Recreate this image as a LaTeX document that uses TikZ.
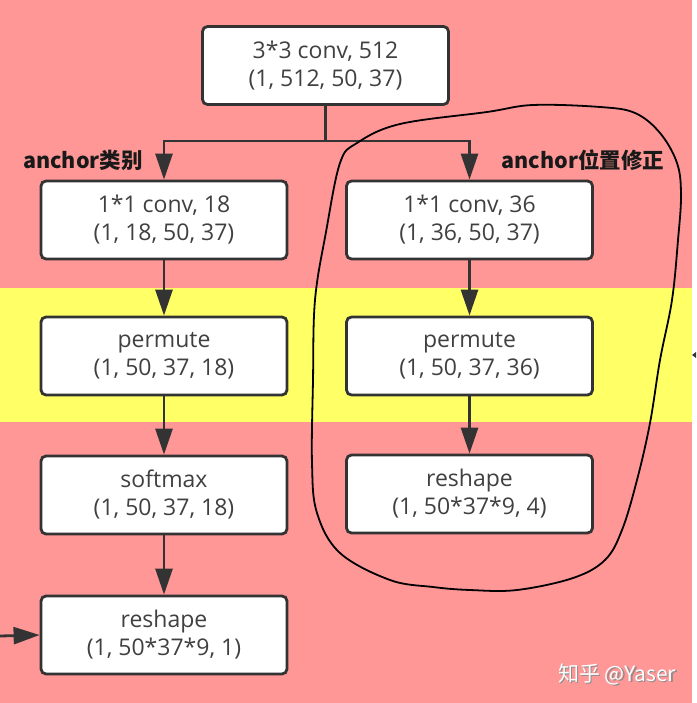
\documentclass[tikz,border=0pt]{standalone}
\usepackage{fontspec}
\setmainfont{Open Sans}
\newfontfamily\cjk{Noto Sans CJK SC}
\usetikzlibrary{arrows.meta}
\definecolor{bgpink}{RGB}{255,151,151}
\definecolor{bandyellow}{RGB}{255,255,102}
\definecolor{boxline}{RGB}{51,51,51}
\definecolor{boxtext}{RGB}{64,64,64}

\begin{document}
\begin{tikzpicture}[x=1pt,y=-1pt,
  layer/.style={draw=boxline, line width=2.8pt, rounded corners=5pt, fill=white,
    minimum width=246pt, minimum height=78pt, align=center, text=boxtext,
    font=\fontsize{23}{28}\selectfont},
  flow/.style={draw=boxline, line width=2.8pt, -{Triangle[length=26pt,width=17pt]}},
  tag/.style={font=\cjk\bfseries\fontsize{21.5}{21.5}\selectfont, text=black!90}]
\useasboundingbox (0,0) rectangle (696,703);
\fill[white] (0,0) rectangle (696,703);
\fill[bgpink] (0,0) rectangle (692,703);
\fill[bandyellow] (0,288) rectangle (692,422);

\node[layer] (conv) at (325.5,65.5) {3*3 conv, 512\\(1, 512, 50, 37)};
\node[layer] (cls1) at (164,220) {1*1 conv, 18\\(1, 18, 50, 37)};
\node[layer] (cls2) at (164,356) {permute\\(1, 50, 37, 18)};
\node[layer] (cls3) at (164,495) {softmax\\(1, 50, 37, 18)};
\node[layer] (cls4) at (164,635) {reshape\\(1, 50*37*9, 1)};
\node[layer] (reg1) at (469.5,220) {1*1 conv, 36\\(1, 36, 50, 37)};
\node[layer] (reg2) at (469.5,356) {permute\\(1, 50, 37, 36)};
\node[layer] (reg3) at (469.5,494) {reshape\\(1, 50*37*9, 4)};

\node[tag] (clsname) at (83,160) {anchor类别};
\node[tag] (regname) at (583,160) {anchor位置修正};

% branch
\coordinate (split) at (325.5,141);
\draw[boxline, line width=2.8pt] (conv.south) -- (split);
\draw[flow] (split) -| (cls1.north);
\draw[flow] (split) -| (reg1.north);
\foreach \a/\b in {cls1/cls2, cls2/cls3, cls3/cls4, reg1/reg2, reg2/reg3} {
  \draw[flow] (\a) -- (\b);
};
\coordinate (feed) at (0,636);
\draw[flow] (feed) -- (cls4.west);
\fill[boxline] (692,355) -- (696,352) -- (696,358) -- cycle;

% hand drawn loop
\draw[black, line width=1.8pt] plot[smooth cycle, tension=0.6] coordinates {
  (340,163) (357,143) (400,124) (487,112) (533,105) (600,107) (635,113)
  (660,133) (677,163) (681,195) (678,240) (672,300) (660,360) (650,423)
  (637,480) (622,530) (605,560) (573,578) (517,590) (470,590) (433,587)
  (390,580) (340,553) (317,513) (312,463) (313,380) (315,300) (326,232)};

\node[font=\cjk\fontsize{21}{21}\selectfont, text=black!45] (markshadow) at (618.5,675.5) {知乎 @Yaser};
\node[font=\cjk\fontsize{21}{21}\selectfont, text=white] (mark) at (617,674) {知乎 @Yaser};
\end{tikzpicture}
\end{document}
